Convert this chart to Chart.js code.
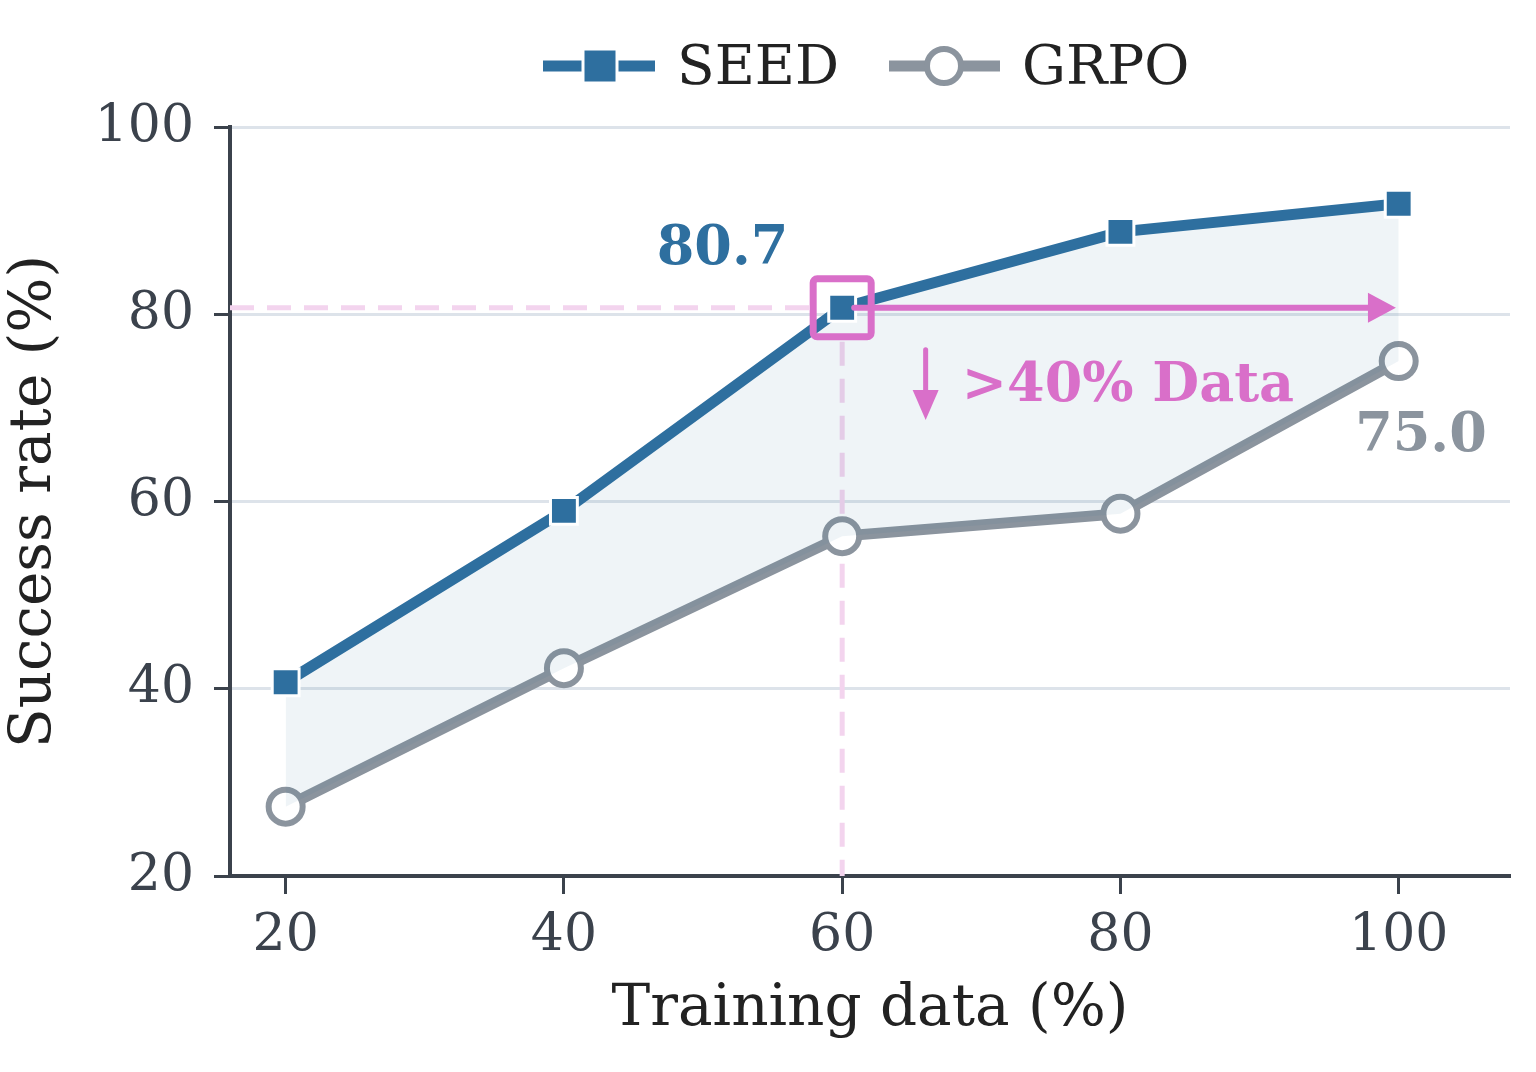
<!DOCTYPE html>
<html>
<head>
<meta charset="utf-8">
<script src="https://cdn.jsdelivr.net/npm/chart.js@4.4.1/dist/chart.umd.min.js"></script>
<style>
  html, body { margin: 0; padding: 0; background: #fff; }
  #wrap { width: 1536px; height: 1072px; }
</style>
</head>
<body>
<div id="wrap"><canvas id="c" width="1536" height="1072"></canvas></div>
<script>
// data
const trainingData = [20, 40, 60, 80, 100];
const seedRates = [40.7, 59.0, 80.7, 88.8, 91.8];
const grpoRates = [27.4, 42.2, 56.3, 58.7, 75.0];
const xTicks = [20, 40, 60, 80, 100];
const yTicks = [20, 40, 60, 80, 100];

const FONT = "'DejaVu Serif', serif";
const SEED_COLOR = '#2e6f9f';
const GRPO_COLOR = '#8b949e';
const PINK = '#d96fc9';
const PINK_LIGHT = '#f3d4ee';
const AXIS = '#3b424c';

// dashed guide lines + pink highlight / arrow / labels
const annotations = {
  id: 'annotations',
  beforeDatasetsDraw(chart) {
    const { ctx, scales: { x, y }, chartArea } = chart;
    const px = x.getPixelForValue(60), py = y.getPixelForValue(80.7);
    ctx.save();
    ctx.strokeStyle = PINK_LIGHT;
    ctx.lineWidth = 5;
    ctx.setLineDash([24, 13]);
    ctx.beginPath();
    ctx.moveTo(chartArea.left, py);
    ctx.lineTo(px - 30, py);
    ctx.moveTo(px, py + 34);
    ctx.lineTo(px, chartArea.bottom);
    ctx.stroke();
    ctx.restore();
  },
  afterDatasetsDraw(chart) {
    const { ctx, scales: { x, y } } = chart;
    const px = x.getPixelForValue(60), py = y.getPixelForValue(80.7);
    ctx.save();
    // highlight box
    ctx.strokeStyle = PINK;
    ctx.lineWidth = 7;
    ctx.lineJoin = 'round';
    ctx.beginPath();
    ctx.roundRect(px - 29, py - 29, 58, 58, 4);
    ctx.stroke();
    // horizontal arrow
    const ex = x.getPixelForValue(99.8);
    ctx.lineWidth = 6;
    ctx.lineCap = 'round';
    ctx.beginPath();
    ctx.moveTo(px + 12, py);
    ctx.lineTo(ex - 20, py);
    ctx.stroke();
    ctx.fillStyle = PINK;
    ctx.beginPath();
    ctx.moveTo(ex, py);
    ctx.lineTo(ex - 28, py - 15);
    ctx.lineTo(ex - 28, py + 15);
    ctx.closePath();
    ctx.fill();
    // down arrow
    const ax = x.getPixelForValue(66);
    const ay0 = y.getPixelForValue(76.2), ay1 = y.getPixelForValue(68.7);
    ctx.lineWidth = 5;
    ctx.beginPath();
    ctx.moveTo(ax, ay0);
    ctx.lineTo(ax, ay1 - 20);
    ctx.stroke();
    ctx.beginPath();
    ctx.moveTo(ax, ay1);
    ctx.lineTo(ax - 13, ay1 - 30);
    ctx.lineTo(ax + 13, ay1 - 30);
    ctx.closePath();
    ctx.fill();
    // labels
    ctx.textBaseline = 'middle';
    ctx.font = 'bold 54px ' + FONT;
    ctx.textAlign = 'left';
    ctx.fillText('>40% Data', x.getPixelForValue(68.6), y.getPixelForValue(72.2));
    ctx.textAlign = 'center';
    ctx.fillStyle = SEED_COLOR;
    ctx.fillText('80.7', x.getPixelForValue(51.4), y.getPixelForValue(86.9));
    ctx.fillStyle = GRPO_COLOR;
    ctx.fillText('75.0', x.getPixelForValue(101.6), y.getPixelForValue(66.9));
    ctx.restore();
  },
  afterDraw(chart) {
    // legend: line + marker, then label
    const { ctx } = chart;
    const ly = 66;
    ctx.save();
    ctx.lineWidth = 11;
    ctx.strokeStyle = SEED_COLOR;
    ctx.beginPath();
    ctx.moveTo(543, ly); ctx.lineTo(655, ly);
    ctx.stroke();
    ctx.fillStyle = SEED_COLOR;
    ctx.strokeStyle = '#fff';
    ctx.lineWidth = 3;
    ctx.fillRect(583, ly - 17, 34, 34);
    ctx.strokeRect(583, ly - 17, 34, 34);
    ctx.lineWidth = 11;
    ctx.strokeStyle = GRPO_COLOR;
    ctx.beginPath();
    ctx.moveTo(889, ly); ctx.lineTo(1000, ly);
    ctx.stroke();
    ctx.fillStyle = '#fff';
    ctx.lineWidth = 6;
    ctx.beginPath();
    ctx.arc(944, ly, 17, 0, Math.PI * 2);
    ctx.fill();
    ctx.stroke();
    ctx.fillStyle = '#222';
    ctx.font = '55px ' + FONT;
    ctx.textAlign = 'left';
    ctx.textBaseline = 'middle';
    ctx.fillText('SEED', 677, ly + 4);
    ctx.fillText('GRPO', 1022, ly + 4);
    ctx.restore();
  }
};

new Chart(document.getElementById('c'), {
  type: 'line',
  data: {
    datasets: [{
      label: 'SEED',
      data: trainingData.map((v, i) => ({ x: v, y: seedRates[i] })),
      borderColor: SEED_COLOR,
      borderWidth: 11,
      backgroundColor: 'rgba(46,111,159,0.08)',
      fill: '+1',
      pointStyle: 'rect',
      pointRadius: 19,
      pointBackgroundColor: SEED_COLOR,
      pointBorderColor: '#fff',
      pointBorderWidth: 3,
      tension: 0
    }, {
      label: 'GRPO',
      data: trainingData.map((v, i) => ({ x: v, y: grpoRates[i] })),
      borderColor: GRPO_COLOR,
      borderWidth: 11,
      fill: false,
      pointStyle: 'circle',
      pointRadius: 17,
      pointBackgroundColor: '#fff',
      pointBorderColor: GRPO_COLOR,
      pointBorderWidth: 6,
      tension: 0
    }]
  },
  options: {
    responsive: false,
    animation: false,
    layout: { padding: { top: 127, right: 26, left: 0, bottom: 0 } },
    plugins: { legend: { display: false }, tooltip: { enabled: false } },
    scales: {
      x: {
        type: 'linear',
        min: 16,
        max: 108,
        afterBuildTicks(scale) { scale.ticks = xTicks.map(v => ({ value: v })); },
        afterFit(scale) { scale.height = 196; },
        grid: { drawOnChartArea: false, tickLength: 18, tickWidth: 3, tickColor: AXIS },
        border: { color: AXIS, width: 4 },
        ticks: { color: AXIS, padding: 11, font: { family: FONT, size: 52 } },
        title: { display: true, text: 'Training data (%)', color: '#222', padding: { top: 0, bottom: 27 }, font: { family: FONT, size: 58 } }
      },
      y: {
        min: 20,
        max: 100,
        afterBuildTicks(scale) { scale.ticks = yTicks.map(v => ({ value: v })); },
        afterFit(scale) { scale.width = 230; },
        grid: { color: '#dde3ea', lineWidth: 3, tickLength: 16, tickWidth: 3, tickColor: AXIS },
        border: { color: AXIS, width: 4 },
        ticks: { color: AXIS, padding: 20, font: { family: FONT, size: 52 } },
        title: { display: true, text: 'Success rate (%)', color: '#222', padding: { bottom: 0, top: 0 }, font: { family: FONT, size: 58 } }
      }
    }
  },
  plugins: [annotations]
});
</script>
</body>
</html>
